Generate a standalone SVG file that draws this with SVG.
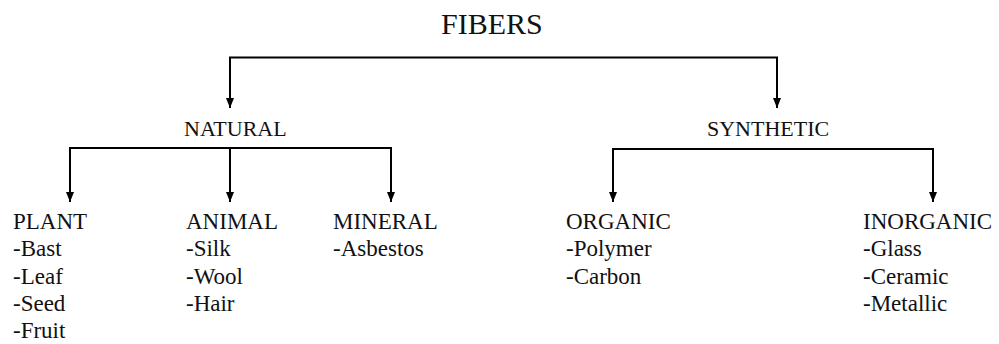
<svg xmlns="http://www.w3.org/2000/svg" width="999" height="344" viewBox="0 0 999 344">
<defs>
<style>
text { font-family: "Liberation Serif", "Times New Roman", serif; fill: #111; }
.title { font-size: 30px; }
.cat { font-size: 22px; }
.sub { font-size: 23px; }
.conn path { fill: none; stroke: #000; stroke-width: 2; marker-end: url(#arr); }
</style>
<marker id="arr" viewBox="0 0 10 8" refX="10" refY="4" markerWidth="10" markerHeight="8" markerUnits="userSpaceOnUse" orient="auto">
<path d="M0,0 L10,4 L0,8 z" fill="#000"/>
</marker>
</defs>
<rect width="999" height="344" fill="#fff"/>
<g id="connectors" class="conn">
<path d="M504,57.5 H230 V108"/>
<path d="M504,57.5 H777 V108"/>
<path d="M230,148 H70 V202"/>
<path d="M230,148 V202"/>
<path d="M230,148 H391 V202"/>
<path d="M773,149 H613 V202"/>
<path d="M773,149 H933 V202"/>
</g>
<g id="fibers"><text class="title" x="441" y="34">FIBERS</text></g>
<g id="natural"><text class="cat" x="184" y="136">NATURAL</text></g>
<g id="synthetic"><text class="cat" x="707" y="136">SYNTHETIC</text></g>
<g id="plant">
<text class="sub" x="13" y="229">PLANT</text>
<text class="sub" x="13" y="256">-Bast</text>
<text class="sub" x="13" y="283.5">-Leaf</text>
<text class="sub" x="13" y="311">-Seed</text>
<text class="sub" x="13" y="338">-Fruit</text>
</g>
<g id="animal">
<text class="sub" x="186" y="228.5">ANIMAL</text>
<text class="sub" x="186" y="256">-Silk</text>
<text class="sub" x="186" y="283.5">-Wool</text>
<text class="sub" x="186" y="311">-Hair</text>
</g>
<g id="mineral">
<text class="sub" x="333" y="228.5">MINERAL</text>
<text class="sub" x="333" y="256">-Asbestos</text>
</g>
<g id="organic">
<text class="sub" x="566" y="228.5">ORGANIC</text>
<text class="sub" x="566" y="256">-Polymer</text>
<text class="sub" x="566" y="283.5">-Carbon</text>
</g>
<g id="inorganic">
<text class="sub" x="863" y="228.5">INORGANIC</text>
<text class="sub" x="863" y="256">-Glass</text>
<text class="sub" x="863" y="283.5">-Ceramic</text>
<text class="sub" x="863" y="311">-Metallic</text>
</g>
</svg>
